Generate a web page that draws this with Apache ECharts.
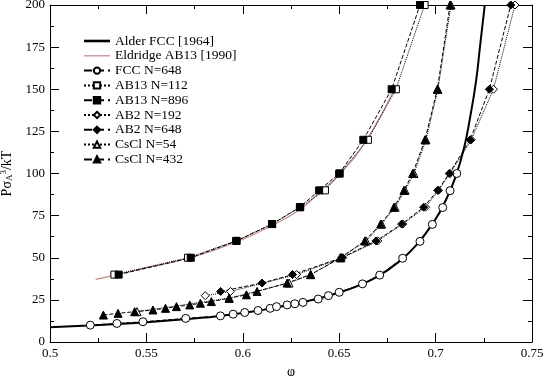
<!DOCTYPE html>
<html>
<head>
<meta charset="utf-8">
<script src="https://cdn.jsdelivr.net/npm/echarts@6/dist/echarts.min.js"></script>
<style>
  html, body { margin: 0; padding: 0; background: #fff; }
  #chart { width: 545px; height: 376px; }
</style>
</head>
<body>
<div id="chart"></div>
<script>
// pressure vs packing fraction
const alderFCC = [[0.5, 8.8], [0.52, 9.8], [0.54, 11], [0.56, 12.6], [0.58, 14.5], [0.6, 17.2],
  [0.62, 21], [0.64, 26], [0.65, 29.4], [0.66, 33.5], [0.67, 39], [0.68, 46.8], [0.69, 57.5],
  [0.7, 73], [0.705, 83.5], [0.71, 97], [0.7145, 114], [0.718, 134], [0.721, 155], [0.723, 175], [0.7255, 200]]
const eldridgeAB13 = [[0.5237, 37.2], [0.535, 40], [0.55, 44], [0.573, 50], [0.597, 59.5], [0.615, 69],
  [0.63, 79], [0.64, 89], [0.6507, 100], [0.6642, 120], [0.679, 151]]
const fcc648 = [[0.5209, 10], [0.5347, 11], [0.5482, 12], [0.5704, 14], [0.5884, 15.5], [0.595, 16.5],
  [0.601, 17.5], [0.6079, 18.7], [0.6142, 20], [0.6175, 21], [0.623, 22], [0.627, 22.7], [0.6312, 23.5],
  [0.6391, 25.5], [0.6444, 27.5], [0.65, 29.5], [0.6621, 34.5], [0.671, 39.7], [0.6829, 49.7],
  [0.6919, 59.7], [0.6983, 69.8], [0.7037, 79.8], [0.7075, 89.8], [0.711, 100]]
const ab13_112 = [[0.5334, 40], [0.5716, 50], [0.5965, 60], [0.6152, 70], [0.6298, 80], [0.6426, 90],
  [0.6503, 100], [0.6649, 120], [0.6794, 150], [0.6943, 200]]
const ab13_896 = [[0.5356, 40], [0.573, 50], [0.5968, 60], [0.6152, 70], [0.6296, 80], [0.6396, 90],
  [0.65, 100], [0.6625, 120], [0.6772, 150], [0.6919, 200]]
const ab2_192 = [[0.5805, 27.5], [0.5936, 30], [0.6279, 40], [0.6518, 50], [0.67, 60], [0.683, 70],
  [0.6948, 80], [0.7015, 90], [0.7075, 100], [0.7185, 120], [0.73, 150], [0.7412, 200]]
const ab2_648 = [[0.5885, 30], [0.61, 35], [0.6258, 40], [0.6513, 50], [0.6691, 60], [0.6824, 70],
  [0.6938, 80], [0.7011, 90], [0.7071, 100], [0.7179, 120], [0.7279, 150], [0.739, 200]]
const cscl54 = [[0.5451, 18], [0.5929, 26], [0.624, 35], [0.6352, 40], [0.6505, 50], [0.664, 60],
  [0.672, 70], [0.679, 80], [0.6842, 90], [0.6888, 100], [0.695, 120], [0.7012, 150], [0.708, 200]]
const cscl432 = [[0.5277, 16], [0.5353, 17], [0.5439, 18], [0.5534, 19], [0.5599, 20], [0.5656, 21],
  [0.5725, 22], [0.578, 23], [0.5837, 24], [0.5929, 26], [0.6019, 28], [0.6074, 30], [0.623, 35],
  [0.6352, 40], [0.6509, 50], [0.6633, 60], [0.6715, 70], [0.6784, 80], [0.6836, 90], [0.6881, 100],
  [0.6945, 120], [0.7009, 150], [0.7075, 200]]

const xTicks = { min: 0.5, max: 0.75, step: 0.05 }
const yTicks = { min: 0, max: 200, step: 25 }

const serif = 'Liberation Serif'

function pts(name, data, symbol, filled, dash, size) {
  return {
    name: name,
    type: 'line',
    data: data,
    symbol: symbol,
    symbolSize: size,
    showSymbol: true,
    lineStyle: { color: '#000', width: 1, type: dash },
    itemStyle: { color: filled ? '#000' : '#fff', borderColor: '#000', borderWidth: 1 }
  }
}

let dom = document.getElementById('chart')
let myChart = echarts.init(dom, null, { renderer: 'canvas' })

const frameAxis = {
  axisLine: { show: true, onZero: false, lineStyle: { color: '#000', width: 1 } },
  axisTick: { show: true, inside: true, length: 9, lineStyle: { color: '#000' } },
  minorTick: { show: true, splitNumber: 2, length: 4, lineStyle: { color: '#000' } },
  splitLine: { show: false }
}

var option = {
  animation: false,
  backgroundColor: '#fff',
  grid: { left: 50, right: 13, top: 5, bottom: 34, outerBoundsMode: 'none' },
  legend: {
    orient: 'vertical',
    left: 78,
    top: 29,
    itemWidth: 26,
    itemHeight: 8,
    itemGap: 0.8,
    textStyle: { fontFamily: serif, fontSize: 13.5, color: '#000', lineHeight: 14 },
    data: [
      { name: 'Alder FCC [1964]', icon: 'path://M0,0H20V2H0Z', itemStyle: { color: '#000' } },
      { name: 'Eldridge AB13 [1990]', icon: 'path://M0,0H20V1H0Z', itemStyle: { color: '#c48a8a' } },
      'FCC N=648', 'AB13 N=112', 'AB13 N=896', 'AB2 N=192', 'AB2 N=648', 'CsCl N=54', 'CsCl N=432'
    ]
  },
  xAxis: [
    Object.assign({
      type: 'value', min: xTicks.min, max: xTicks.max, interval: xTicks.step,
      name: 'φ', nameLocation: 'middle', nameGap: 15,
      nameTextStyle: { fontFamily: serif, fontSize: 14, color: '#000' },
      axisLabel: { fontFamily: serif, fontSize: 13, color: '#000', margin: 5,
        formatter: v => String(+v.toFixed(2)) }
    }, frameAxis),
    Object.assign({
      type: 'value', position: 'top', min: xTicks.min, max: xTicks.max, interval: xTicks.step,
      axisLabel: { show: false }
    }, frameAxis)
  ],
  yAxis: [
    Object.assign({
      type: 'value', min: yTicks.min, max: yTicks.max, interval: yTicks.step,
      name: 'Pσ{sub|A}{sup|3}/kT', nameLocation: 'middle', nameGap: 28, nameRotate: 90,
      nameTextStyle: {
        fontFamily: serif, fontSize: 14, color: '#000',
        rich: {
          sub: { fontFamily: serif, fontSize: 9, color: '#000', verticalAlign: 'bottom', padding: [6, 0, 0, 0] },
          sup: { fontFamily: serif, fontSize: 9, color: '#000', verticalAlign: 'top', padding: [0, 0, 6, 0] }
        }
      },
      axisLabel: { fontFamily: serif, fontSize: 13, color: '#000', margin: 5 }
    }, frameAxis),
    Object.assign({
      type: 'value', position: 'right', min: yTicks.min, max: yTicks.max, interval: yTicks.step,
      axisLabel: { show: false }
    }, frameAxis)
  ],
  series: [
    {
      name: 'Alder FCC [1964]', type: 'line', data: alderFCC, smooth: true, symbol: 'none',
      lineStyle: { color: '#000', width: 2 }, itemStyle: { color: '#000' }, z: 1
    },
    {
      name: 'Eldridge AB13 [1990]', type: 'line', data: eldridgeAB13, smooth: true, symbol: 'none',
      lineStyle: { color: '#c48a8a', width: 1.2 }, itemStyle: { color: '#c48a8a' }, z: 1
    },
    pts('FCC N=648', fcc648, 'circle', false, 'dashed', 8),
    pts('AB13 N=112', ab13_112, 'rect', false, 'dotted', 7),
    pts('AB13 N=896', ab13_896, 'rect', true, 'dashed', 7),
    pts('AB2 N=192', ab2_192, 'diamond', false, 'dotted', 8),
    pts('AB2 N=648', ab2_648, 'diamond', true, 'dashed', 8),
    pts('CsCl N=54', cscl54, 'triangle', false, 'dotted', 8),
    pts('CsCl N=432', cscl432, 'triangle', true, 'dashed', 8)
  ]
}

if (option && typeof option === 'object') {
  myChart.setOption(option)
}
</script>
</body>
</html>
